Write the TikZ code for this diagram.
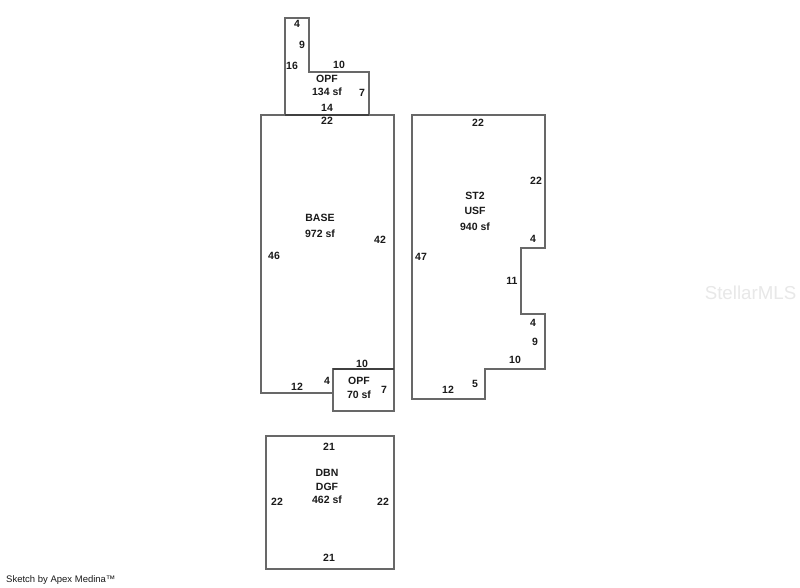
\documentclass[tikz,border=0pt]{standalone}
\usepackage{fontspec}
\setmainfont{Liberation Sans}
\definecolor{wall}{HTML}{686868}
\definecolor{lbl}{HTML}{1A1A1A}
\tikzset{
  x=1pt,y=-1pt,
  plan/.style={draw=wall,line width=1.05pt,line join=miter},
  dark/.style={draw=black!75,line width=1.05pt},
  dim/.style={inner sep=0pt,text=lbl,font=\bfseries\fontsize{10.5}{12}\selectfont},
  area/.style={dim,align=center,font=\bfseries\fontsize{10.5}{13.5}\selectfont},
}
\begin{document}
\begin{tikzpicture}
\useasboundingbox (0,0) rectangle (800,587);
\fill[white] (0,0) rectangle (800,587);
% watermark
\node[inner sep=0pt,text=black!9,font=\fontsize{18.7}{22}\selectfont] (wm) at (750.5,293) {StellarMLS};
% outlines
\draw[plan] (261,115) -- (394,115) -- (394,369) -- (333,369) -- (333,393) -- (261,393) -- cycle;
\draw[plan] (285,18) -- (309,18) -- (309,72) -- (369,72) -- (369,115) -- (285,115) -- cycle;
\draw[plan] (333,369) -- (394,369) -- (394,411) -- (333,411) -- cycle;
\draw[plan] (412,115) -- (545,115) -- (545,248) -- (521,248) -- (521,314) -- (545,314) -- (545,369) -- (485,369) -- (485,399) -- (412,399) -- cycle;
\draw[plan] (266,436) -- (394,436) -- (394,569) -- (266,569) -- cycle;
\draw[dark] (285,115) -- (369,115);
\draw[dark] (333,369) -- (394,369);
% upper OPF
\node[dim] (a1) at (297,24) {4};
\node[dim] (a2) at (302,45) {9};
\node[dim] (a3) at (292,66) {16};
\node[dim] (a4) at (339,65) {10};
\node[area] (a5) at (327,85.5) {OPF\\134 sf};
\node[dim] (a6) at (362,93) {7};
\node[dim] (a7) at (327,108) {14};
% BASE
\node[dim] (b1) at (327,121) {22};
\node[area,font=\bfseries\fontsize{10.5}{15.5}\selectfont] (b2) at (320,226) {BASE\\972 sf};
\node[dim] (b3) at (380,240) {42};
\node[dim] (b4) at (274,256) {46};
\node[dim] (b5) at (297,387) {12};
\node[dim] (b6) at (327,381) {4};
% lower OPF
\node[dim] (c1) at (362,364) {10};
\node[area] (c2) at (359,388) {OPF\\70 sf};
\node[dim] (c3) at (384,390) {7};
% ST2
\node[dim] (d1) at (478,123) {22};
\node[dim] (d2) at (536,181) {22};
\node[area,font=\bfseries\fontsize{10.5}{15.5}\selectfont] (d3) at (475,211) {ST2\\USF\\940 sf};
\node[dim] (d4) at (533,239) {4};
\node[dim] (d5) at (421,257) {47};
\node[dim] (d6) at (512,281) {11};
\node[dim] (d7) at (533,323) {4};
\node[dim] (d8) at (535,342) {9};
\node[dim] (d9) at (515,360) {10};
\node[dim] (d10) at (475,384) {5};
\node[dim] (d11) at (448,390) {12};
% DBN
\node[dim] (e1) at (329,447) {21};
\node[area] (e2) at (327,486.5) {DBN\\DGF\\462 sf};
\node[dim] (e3) at (277,502) {22};
\node[dim] (e4) at (383,502) {22};
\node[dim] (e5) at (329,558) {21};
% credit
\node[anchor=west,inner sep=0pt,text=lbl,font=\fontsize{9.5}{11}\selectfont] (f) at (6,580.5) {Sketch by Apex Medina™};
\end{tikzpicture}
\end{document}
